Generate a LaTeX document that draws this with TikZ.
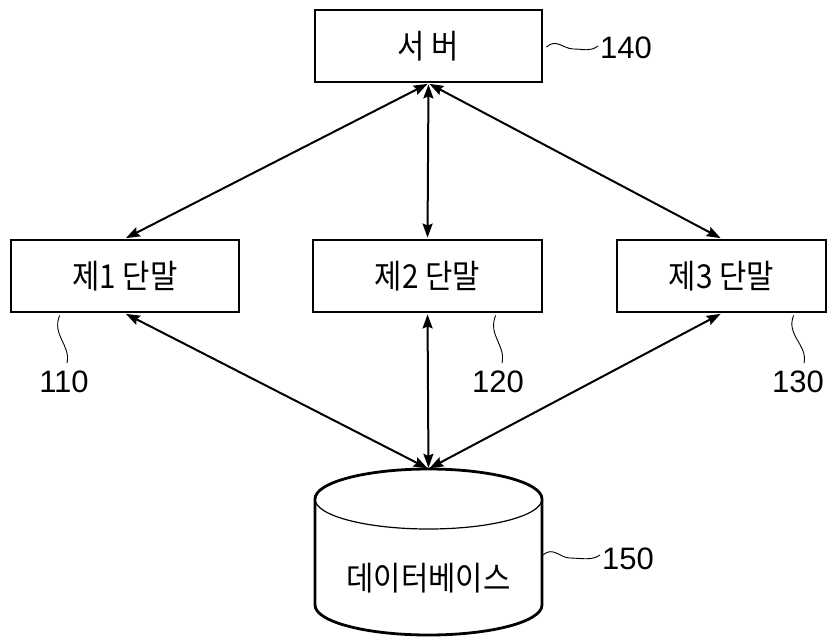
\documentclass[tikz,border=0pt]{standalone}
\usepackage{fontspec}
\setmainfont{Liberation Sans}
\newfontfamily\kr[FakeStretch=0.9]{Noto Sans CJK KR}
\usetikzlibrary{arrows.meta,calc}
\begin{document}
\begin{tikzpicture}[x=1pt,y=-1pt,
  krfont/.style={font=\kr\fontsize{33}{36}\selectfont},
  box/.style={draw, line width=2.8pt, minimum width=228pt, minimum height=72pt, inner sep=0pt, krfont},
  tip/.tip={Stealth[length=14pt,width=10pt,inset=2pt]},
  link/.style={line width=2pt, tip-tip, shorten <=1pt, shorten >=1pt},
  lbl/.style={font=\fontsize{31}{34}\selectfont, inner sep=0pt},
  squig/.style={line width=0.9pt}]
\useasboundingbox (0,0) rectangle (837,637);

% boxes
\node[box, minimum width=227pt] (srv) at (428.5,46) {서 버};
\node[box] (t1) at (125,276) {제1 단말};
\node[box, minimum width=229pt] (t2) at (427.5,276) {제2 단말};
\node[box, minimum width=209pt] (t3) at (721.5,276) {제3 단말};

% database cylinder
\node[minimum width=227pt, minimum height=166pt, inner sep=0pt] (db) at (428.5,552) {};
\draw[line width=2.8pt] (315,499) arc[start angle=180, end angle=360, x radius=113.5, y radius=30]
   -- (542,605) arc[start angle=0, end angle=180, x radius=113.5, y radius=30] -- cycle;
\draw[line width=1.2pt] (315,499) arc[start angle=180, end angle=0, x radius=113.5, y radius=30];
\node[krfont, inner sep=0pt] (dbtext) at (428.5,578) {데이터베이스};

% connectors
\draw[link] (srv.south) -- (t1.north);
\draw[link] (srv.south) -- (t2.north);
\draw[link] (srv.south) -- (t3.north);
\draw[link] (t1.south) -- (db.north);
\draw[link] (t2.south) -- (db.north);
\draw[link] (t3.south) -- (db.north);

% reference labels
\node[lbl, anchor=west] (l140) at (600,48) {140};
\node[lbl, anchor=west] (l150) at (602,559) {150};
\node[lbl, anchor=north] (l110) at (64,371) {110};
\node[lbl, anchor=north] (l120) at (498,371) {120};
\node[lbl, anchor=north] (l130) at (798,371) {130};

\draw[squig] ($(srv.east)+(3,1)$) .. controls +(10,-9) and +(-10,0) .. ++(27,2)
   .. controls +(10,0) and +(-8,6) .. ($(l140.west)+(-2,-2)$);
\draw[squig] (543,555) .. controls +(10,-9) and +(-10,0) .. ++(27,3)
   .. controls +(10,0) and +(-8,6) .. ($(l150.west)+(-2,-4)$);
\draw[squig] ($(t1.south west)+(50,2)$) .. controls +(-8,20) and +(4,-18) .. ($(l110.north)+(3,-8)$);
\draw[squig] ($(t2.south west)+(184,2)$) .. controls +(-8,20) and +(4,-18) .. ($(l120.north)+(4,-8)$);
\draw[squig] ($(t3.south west)+(178,2)$) .. controls +(-8,20) and +(4,-18) .. ($(l130.north)+(6,-8)$);
\end{tikzpicture}
\end{document}
